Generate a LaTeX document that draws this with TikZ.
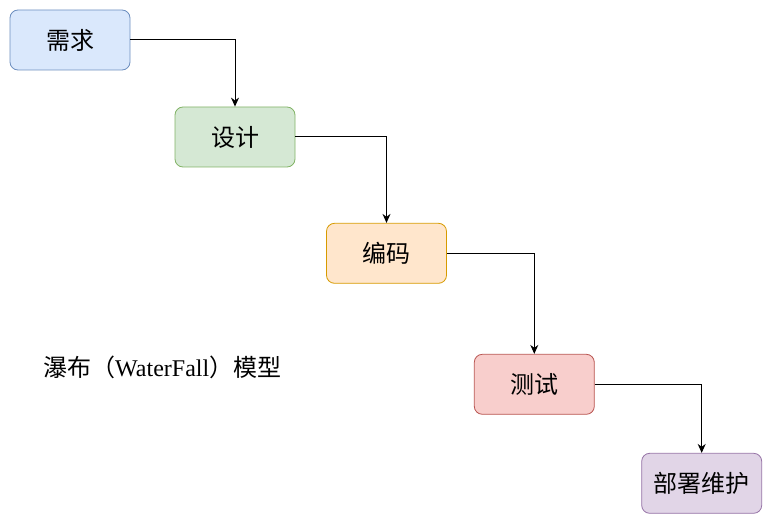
\documentclass[tikz,border=0pt]{standalone}
\usepackage{fontspec}
\setmainfont{Liberation Serif}
\newfontfamily\waterfallCJK{Noto Sans CJK SC}
\usetikzlibrary{arrows.meta}

\definecolor{waterfallReqFill}{RGB}{218,232,252}
\definecolor{waterfallReqDraw}{RGB}{108,142,191}
\definecolor{waterfallDesignFill}{RGB}{213,232,212}
\definecolor{waterfallDesignDraw}{RGB}{130,179,102}
\definecolor{waterfallCodeFill}{RGB}{255,230,204}
\definecolor{waterfallCodeDraw}{RGB}{215,155,0}
\definecolor{waterfallTestFill}{RGB}{248,206,204}
\definecolor{waterfallTestDraw}{RGB}{184,84,80}
\definecolor{waterfallDeployFill}{RGB}{225,213,231}
\definecolor{waterfallDeployDraw}{RGB}{150,115,166}
\tikzset{waterfallStage/.style={
    font=\waterfallCJK\fontsize{24}{28}\selectfont,
    rounded corners=8pt,
    minimum width=120pt,
    minimum height=60pt,
    inner sep=0pt,
    line width=0.8pt,
  }
}
\tikzset{waterfallArrow/.style={
    -{Stealth[length=9pt,width=8pt]},
    line width=1pt,
    black,
  }
}
\newcommand{\waterfallDrawStages}{
  \node [waterfallStage, fill=waterfallReqFill, draw=waterfallReqDraw] (req)
  at (70pt, -40pt) {需求};
  \node [waterfallStage, fill=waterfallDesignFill, draw=waterfallDesignDraw] (design)
  at (235pt, -137pt) {设计};
  \node [waterfallStage, fill=waterfallCodeFill, draw=waterfallCodeDraw] (code)
  at (386.5pt, -253.3pt) {编码};
  \node [waterfallStage, fill=waterfallTestFill, draw=waterfallTestDraw] (test)
  at (534.3pt, -384.3pt) {测试};
  \node [waterfallStage, fill=waterfallDeployFill, draw=waterfallDeployDraw] (deploy)
  at (701.7pt, -483.3pt) {部署维护};
}
\newcommand{\waterfallConnectStages}{
  \draw[waterfallArrow] (req.east) -| (design.north);
  \draw[waterfallArrow] (design.east) -| (code.north);
  \draw[waterfallArrow] (code.east) -| (test.north);
  \draw[waterfallArrow] (test.east) -| (deploy.north);
}

\begin{document}
\begin{tikzpicture}
      \useasboundingbox (0,0) rectangle (772pt, -524pt);
      \waterfallDrawStages
      \waterfallConnectStages

      \node [font=\fontsize{24}{28}\selectfont, anchor=west, inner sep=0pt] (title)
      at (43pt, -367pt) {{\waterfallCJK 瀑布（}WaterFall{\waterfallCJK ）模型}};
    \end{tikzpicture}
\end{document}
